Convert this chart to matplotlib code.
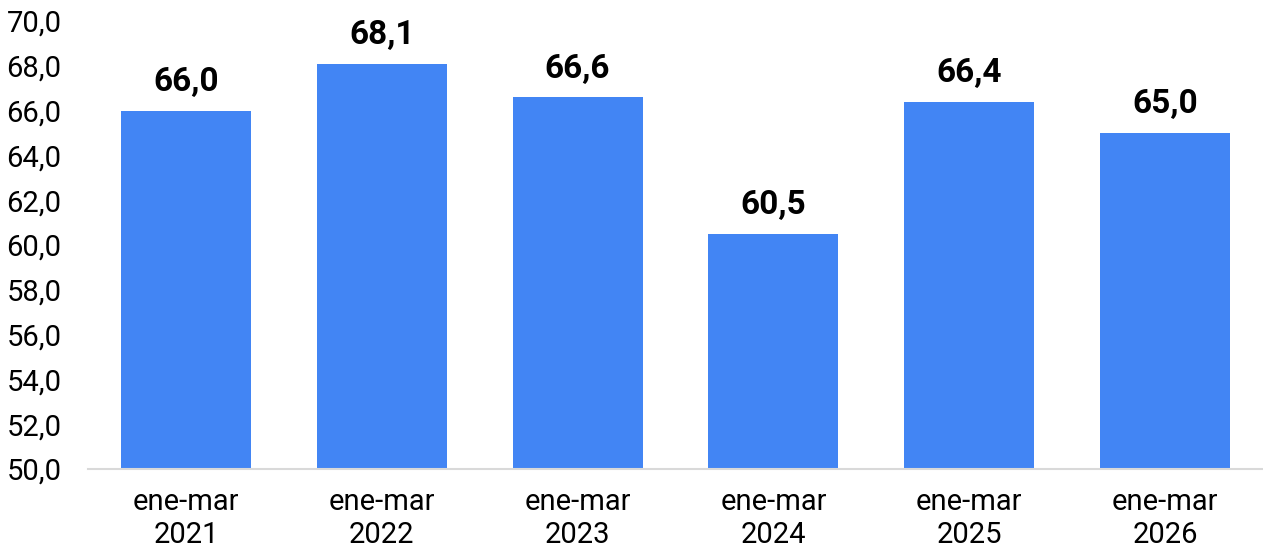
import matplotlib
matplotlib.use("Agg")
import matplotlib.pyplot as plt

categories = ["ene-mar\n2021", "ene-mar\n2022", "ene-mar\n2023", "ene-mar\n2024", "ene-mar\n2025", "ene-mar\n2026"]
values = [66.0, 68.1, 66.6, 60.5, 66.4, 65.0]
yticks = [50, 52, 54, 56, 58, 60, 62, 64, 66, 68, 70]

plt.rcParams['font.family'] = ['Roboto', 'DejaVu Sans']

fig = plt.figure(figsize=(12.63, 5.51), dpi=100)
ax = fig.add_axes([88/1263, 82/551, 1175/1263, 448/551])

x = list(range(len(categories)))
bars = ax.bar(x, values, width=0.663, color="#4285F4", zorder=2)
ax.set_xlim(-0.5, len(categories) - 0.5)
ax.set_ylim(50, 70)
ax.set_yticks(yticks)
ax.set_yticklabels([f"{v:.1f}".replace(".", ",") for v in yticks])
ax.set_xticks(x)
ax.set_xticklabels(categories, linespacing=1.22)

for xi, v in zip(x, values):
    ax.annotate(f"{v:.1f}".replace(".", ","), (xi, v), xytext=(0, 9), textcoords="offset points",
                ha="center", va="bottom", fontsize=24, fontweight="bold", color="black")

for s in ["top", "right", "left"]:
    ax.spines[s].set_visible(False)
ax.spines["bottom"].set_color("#d9d9d9")
ax.spines["bottom"].set_linewidth(1.5)
ax.tick_params(axis="y", length=0, pad=19, labelsize=21, colors="black")
ax.tick_params(axis="x", length=0, pad=14, labelsize=21, colors="black")

fig.savefig("out.png", dpi=100)
